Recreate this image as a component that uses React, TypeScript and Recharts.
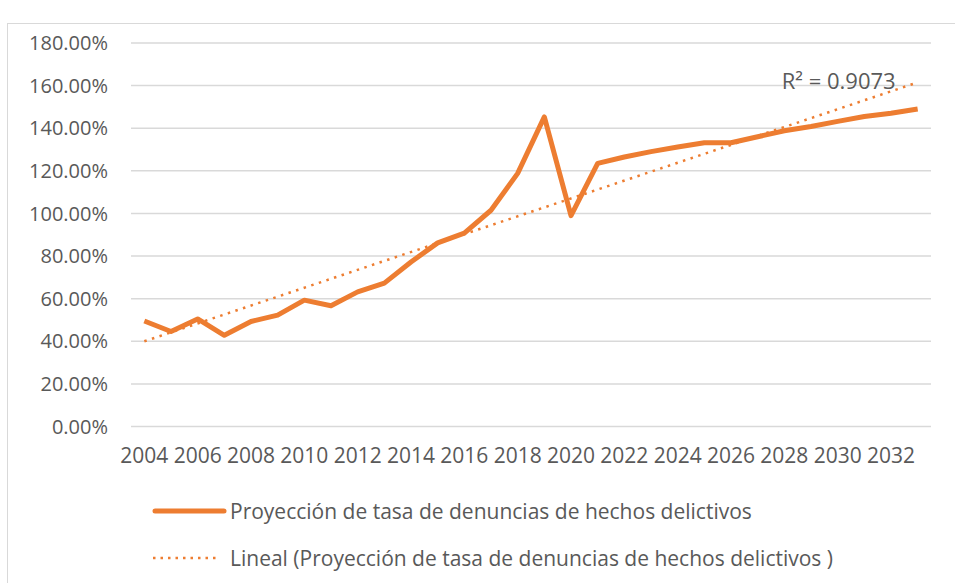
import React from 'react';
import { LineChart, Line, XAxis, YAxis, CartesianGrid, LabelList } from 'recharts';

// años de la proyección (eje de categorías)
const years = [
  '2004', '2005', '2006', '2007', '2008', '2009', '2010', '2011', '2012', '2013',
  '2014', '2015', '2016', '2017', '2018', '2019', '2020', '2021', '2022', '2023',
  '2024', '2025', '2026', '2027', '2028', '2029', '2030', '2031', '2032', '2033',
];

// tasa de denuncias (%)
const rates = [
  49.5, 44.6, 50.5, 42.8, 49.3, 52.3, 59.3, 56.7, 63.2, 67.3,
  77.2, 86.2, 90.8, 101.5, 118.8, 145.3, 99.0, 123.5, 126.5, 129.0,
  131.2, 133.2, 133.2, 136.0, 138.8, 140.8, 143.2, 145.5, 147.0, 149.0,
];

// extremos de la línea de tendencia lineal (%)
const trendStart = 40.0;
const trendEnd = 161.5;
const rSquared = '0.9073';

const yTicks = [0, 20, 40, 60, 80, 100, 120, 140, 160, 180];

const ORANGE = '#ED7D31';
const GREY_TEXT = '#595959';
const GRID = '#d9d9d9';

const seriesName = 'Proyección de tasa de denuncias de hechos delictivos';
const trendName = 'Lineal (Proyección de tasa de denuncias de hechos delictivos )';

const data = years.map((year, i) => ({
  year,
  rate: rates[i],
  trend: i === 0 ? trendStart : i === years.length - 1 ? trendEnd : null,
}));

function RSquaredLabel(props: any) {
  const { x, y, index } = props;
  if (index !== years.length - 1) return null;
  return (
    <text x={x - 22} y={y + 7} textAnchor="end" fontSize={22} fill={GREY_TEXT}>
      R² = {rSquared}
    </text>
  );
}

export default function App() {
  return (
    <div
      style={{
        position: 'absolute',
        left: 0,
        top: 0,
        width: 955,
        height: 583,
        overflow: 'hidden',
        background: '#fff',
        fontFamily: '"Open Sans", sans-serif',
      }}
    >
      {/* marco del gráfico */}
      <div
        style={{
          position: 'absolute',
          left: 7,
          top: 23,
          width: 1000,
          height: 1000,
          border: `1px solid ${GRID}`,
        }}
      />
      <div style={{ position: 'absolute', left: 0, top: 0 }}>
        <LineChart
          width={955}
          height={583}
          data={data}
          margin={{ top: 43, right: 24, left: 0, bottom: 126.5 }}
        >
          <CartesianGrid vertical={false} stroke={GRID} strokeWidth={1.5} />
          <XAxis
            dataKey="year"
            interval={1}
            padding={{ left: 13.33, right: 13.33 }}
            tickLine={false}
            axisLine={false}
            tickSize={0}
            tickMargin={21.5}
            height={30}
            tick={{ fontSize: 21, fill: GREY_TEXT }}
          />
          <YAxis
            domain={[0, 180]}
            ticks={yTicks}
            width={131}
            tickLine={false}
            axisLine={false}
            tickSize={0}
            tickMargin={23}
            tickFormatter={(v: number) => `${v.toFixed(2)}%`}
            tick={{ fontSize: 20, fill: GREY_TEXT }}
          />
          <Line
            type="linear"
            dataKey="trend"
            stroke={ORANGE}
            strokeWidth={2.5}
            strokeDasharray="2.5 5.5"
            dot={false}
            connectNulls
            isAnimationActive={false}
          >
            <LabelList dataKey="trend" content={<RSquaredLabel />} />
          </Line>
          <Line
            type="linear"
            dataKey="rate"
            stroke={ORANGE}
            strokeWidth={5}
            strokeLinejoin="round"
            dot={false}
            isAnimationActive={false}
          />
        </LineChart>
      </div>

      {/* leyenda */}
      <div style={{ position: 'absolute', left: 150, top: 496, color: GREY_TEXT, fontSize: 21 }}>
        <div style={{ display: 'flex', alignItems: 'center', height: 30 }}>
          <svg width={80} height={10}>
            <line x1={5} y1={5} x2={74} y2={5} stroke={ORANGE} strokeWidth={5} strokeLinecap="round" />
          </svg>
          <span>{seriesName}</span>
        </div>
        <div style={{ display: 'flex', alignItems: 'center', height: 30, marginTop: 17 }}>
          <svg width={80} height={10}>
            <line x1={3} y1={5} x2={70} y2={5} stroke={ORANGE} strokeWidth={2.5} strokeDasharray="2.5 5" />
          </svg>
          <span>{trendName}</span>
        </div>
      </div>
    </div>
  );
}
